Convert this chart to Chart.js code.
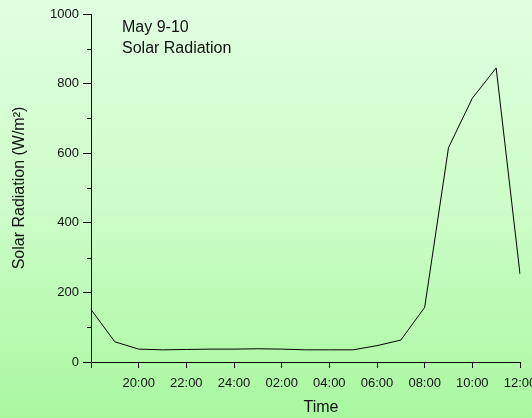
<!DOCTYPE html>
<html>
<head>
<meta charset="utf-8">
<script src="https://cdn.jsdelivr.net/npm/chart.js@4"></script>
<style>
  html, body { margin: 0; padding: 0; }
  body {
    width: 532px; height: 418px; overflow: hidden;
    background: linear-gradient(to bottom, #e0ffe0 0%, #cdfdc8 50%, #a9f8a0 100%);
  }
  canvas { display: block; }
</style>
</head>
<body>
<canvas id="myChart" width="532" height="418" style="width:532px;height:418px"></canvas>
<script>
// hourly readings, May 9 18:00 -> May 10 12:00
const timeLabels = ['18:00', '19:00', '20:00', '21:00', '22:00', '23:00', '24:00', '01:00', '02:00', '03:00',
                    '04:00', '05:00', '06:00', '07:00', '08:00', '09:00', '10:00', '11:00', '12:00'];
const radiation = [151, 58, 37, 35, 36, 37, 37, 38, 37, 35, 35, 35, 47, 63, 157, 616, 758, 845, 253];
const yTicks = [0, 200, 400, 600, 800, 1000];
const notes = ['May 9-10', 'Solar Radiation'];

const font = "'Liberation Sans', Arial, sans-serif";

// short minor ticks on y + the free text
const extras = {
    id: 'extras',
    afterDraw(chart) {
        const ctx = chart.ctx;
        const y = chart.scales.y;
        ctx.save();
        ctx.strokeStyle = '#000';
        ctx.lineWidth = 1;
        for (let v = 100; v < 1000; v += 200) {
            const py = Math.round(y.getPixelForValue(v)) + 0.5;
            ctx.beginPath();
            ctx.moveTo(y.right, py);
            ctx.lineTo(y.right - 4, py);
            ctx.stroke();
        }
        ctx.fillStyle = '#111';
        ctx.font = '16px ' + font;
        ctx.textAlign = 'left';
        ctx.textBaseline = 'alphabetic';
        ctx.fillText(notes[0], 122, 32);
        ctx.fillText(notes[1], 122, 53);
        ctx.textAlign = 'center';
        ctx.fillText('Time', 321, 412);
        ctx.restore();
    }
};

const ctx = document.getElementById('myChart').getContext('2d');
const myChart = new Chart(ctx, {
    type: 'line',
    data: {
        labels: timeLabels,
        datasets: [{
            label: 'Solar Radiation',
            data: radiation,
            borderColor: '#000',
            borderWidth: 1,
            pointRadius: 0,
            tension: 0,
            fill: false
        }]
    },
    options: {
        responsive: false,
        maintainAspectRatio: false,
        animation: false,
        devicePixelRatio: 1,
        layout: { padding: { top: 14, left: 0, right: 0, bottom: 0 } },
        plugins: { legend: { display: false }, tooltip: { enabled: false } },
        scales: {
            x: {
                type: 'category',
                offset: false,
                border: { color: '#000', width: 1 },
                grid: {
                    drawOnChartArea: false,
                    tickLength: 6,
                    tickColor: (c) => (c.index % 2 ? 'rgba(0,0,0,0)' : '#000')
                },
                ticks: {
                    autoSkip: false,
                    maxRotation: 0,
                    padding: 8,
                    color: '#111',
                    font: { family: font, size: 13 },
                    callback: function (val, i) {
                        return (i % 2 === 0 && i > 0) ? this.getLabelForValue(val) : '';
                    }
                },
                afterFit: (s) => { s.height = 56; s.paddingRight = 12; s.paddingLeft = 0; }
            },
            y: {
                min: 0,
                max: 1000,
                border: { color: '#000', width: 1 },
                grid: {
                    drawOnChartArea: false,
                    tickLength: 8,
                    tickColor: (c) => (yTicks.includes(c.tick.value) ? '#000' : 'rgba(0,0,0,0)')
                },
                ticks: {
                    stepSize: 100,
                    padding: 4,
                    color: '#111',
                    font: { family: font, size: 13 },
                    callback: (v) => (yTicks.includes(v) ? String(v) : '')
                },
                title: {
                    display: true,
                    text: 'Solar Radiation (W/m²)',
                    color: '#111',
                    font: { family: font, size: 16 },
                    padding: { top: 10, bottom: 0 }
                },
                afterFit: (s) => { s.width = 91; }
            }
        }
    },
    plugins: [extras]
});
</script>
</body>
</html>
